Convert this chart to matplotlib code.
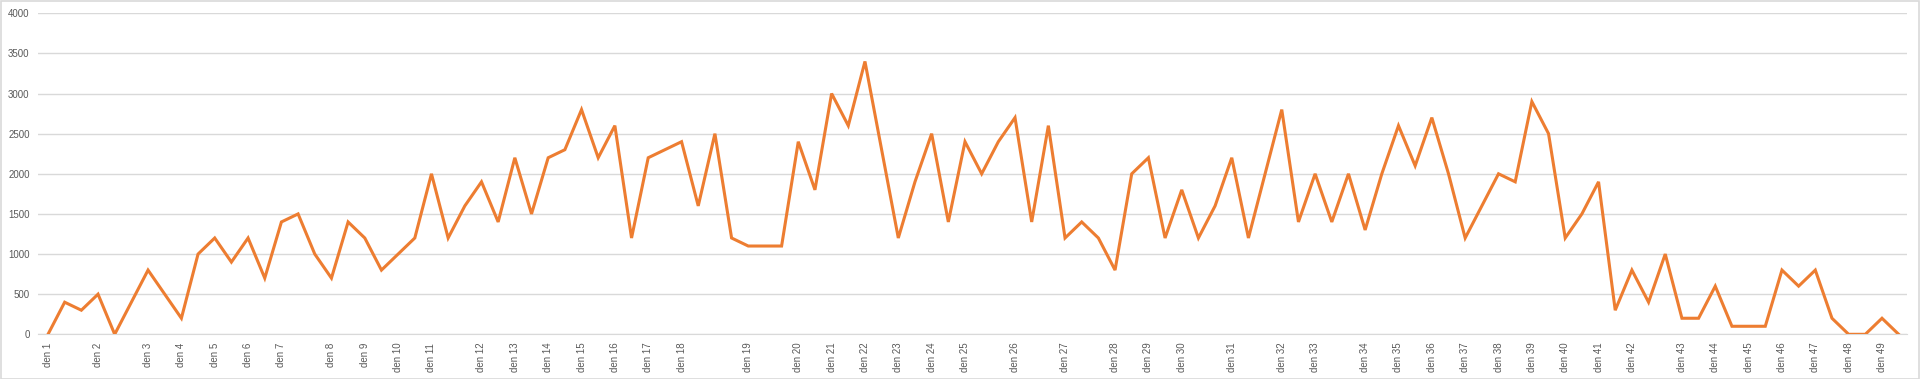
import matplotlib
matplotlib.use("Agg")
import matplotlib.pyplot as plt
import numpy as np

# values per point (112 points)
values = [
    0, 400, 300, 500, 0, 400, 800, 500, 200, 1000,
    1200, 900, 1200, 700, 1400, 1500, 1000, 700, 1400, 1200,
    800, 1000, 1200, 2000, 1200, 1600, 1900, 1400, 2200, 1500,
    2200, 2300, 2800, 2200, 2600, 1200, 2200, 2300, 2400, 1600,
    2500, 1200, 1100, 1100, 1100, 2400, 1800, 3000, 2600, 3400,
    2300, 1200, 1900, 2500, 1400, 2400, 2000, 2400, 2700, 1400,
    2600, 1200, 1400, 1200, 800, 2000, 2200, 1200, 1800, 1200,
    1600, 2200, 1200, 2000, 2800, 1400, 2000, 1400, 2000, 1300,
    2000, 2600, 2100, 2700, 2000, 1200, 1600, 2000, 1900, 2900,
    2500, 1200, 1500, 1900, 300, 800, 400, 1000, 200, 200,
    600, 100, 100, 100, 800, 600, 800, 200, 0, 0,
    200, 0,
]

# which point carries the "den N" label
label_points = [
    0, 3, 6, 8, 10, 12, 14, 17, 19, 21,
    23, 26, 28, 30, 32, 34, 36, 38, 42, 45,
    47, 49, 51, 53, 55, 58, 61, 64, 66, 68,
    71, 74, 76, 79, 81, 83, 85, 87, 89, 91,
    93, 95, 98, 100, 102, 104, 106, 108, 110,
]
labels = ["den %d" % (i + 1) for i in range(len(label_points))]

y_ticks = [0, 500, 1000, 1500, 2000, 2500, 3000, 3500, 4000]

plt.rcParams["font.family"] = ["Liberation Sans", "DejaVu Sans"]

fig = plt.figure(figsize=(19.2, 3.79), dpi=100)
ax = fig.add_axes([38 / 1920, 1 - 334.3 / 379, (1907 - 38) / 1920, (334.3 - 13.3) / 379])

x = np.arange(len(values))
ax.plot(x, values, color="#ED7D31", linewidth=2.2, solid_joinstyle="miter", zorder=3)

ax.set_xlim(-0.6, len(values) - 0.5)
ax.set_ylim(0, 4000)
ax.set_yticks(y_ticks)
ax.set_yticklabels([str(v) for v in y_ticks])
ax.set_xticks(label_points)
ax.set_xticklabels(labels, rotation=90)

ax.grid(axis="y", color="#D9D9D9", linewidth=1)
ax.set_axisbelow(True)
for s in ["top", "right", "left"]:
    ax.spines[s].set_visible(False)
ax.spines["bottom"].set_color("#D9D9D9")
ax.tick_params(axis="both", length=0, colors="#595959", labelsize=7)
ax.tick_params(axis="y", pad=6)
ax.tick_params(axis="x", pad=6)

# light frame around the chart area
fig.patches.append(plt.Rectangle((0.0005, 0.001), 0.999, 0.997, transform=fig.transFigure,
                                 fill=False, edgecolor="#D9D9D9", linewidth=1.2))

fig.savefig("out.png", dpi=100)
